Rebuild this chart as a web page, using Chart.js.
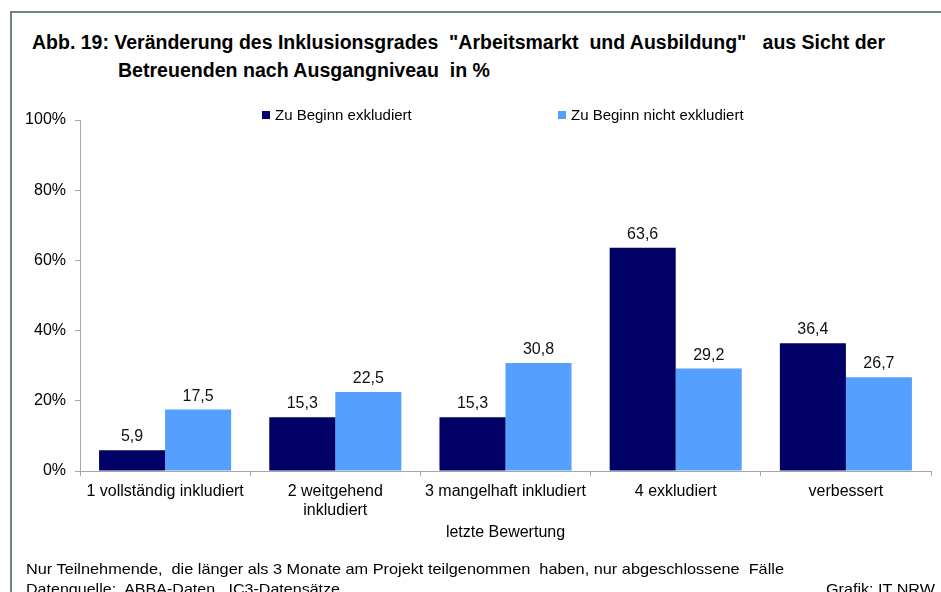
<html>
<head>
<meta charset="UTF-8" />
<title>Abb. 19</title>
<style type="text/css">
  html, body { margin: 0; padding: 0; background: #fff; width: 941px; height: 592px; overflow: hidden; }
  body { position: relative; font-family: "Liberation Sans", Arial, sans-serif; color: #000; }
  #frame { position: absolute; left: 10px; top: 11px; width: 940px; height: 600px;
           border-left: 2px solid #6e8484; border-top: 2px solid #6e8484; }
  .txt { position: absolute; white-space: pre; transform-origin: 0 0; line-height: 1; }
  .title { font-weight: bold; font-size: 20px; }
  .foot { font-size: 15px; }
  #legend { position: absolute; left: 0; top: 106px; font-size: 15px; }
  #legend span.item { position: absolute; white-space: pre; line-height: 18px; }
  #legend i { display: inline-block; width: 8px; height: 8px; margin-right: 5px; vertical-align: 1px; }
  #chart { position: absolute; left: 0; top: 0; }
</style>
</head>
<body>
<div id="frame"></div>
<div class="txt title" id="t1" style="left:32px; top:32px;">Abb. 19: Veränderung des Inklusionsgrades  "Arbeitsmarkt  und Ausbildung"   aus Sicht der</div>
<div class="txt title" id="t2" style="left:118px; top:60px;">Betreuenden nach Ausgangniveau  in %</div>
<canvas id="chart" width="941" height="592"></canvas>
<div id="legend"></div>
<div class="txt foot" id="f1" style="left:26px; top:561px;">Nur Teilnehmende,  die länger als 3 Monate am Projekt teilgenommen  haben, nur abgeschlossene  Fälle</div>
<div class="txt foot" id="f2" style="left:26px; top:581px;">Datenquelle:  ABBA-Daten,  IC3-Datensätze</div>
<div class="txt foot" id="f3" style="left:826px; top:581px;">Grafik: IT NRW</div>

<script src="https://cdn.jsdelivr.net/npm/chart.js"></script>
<script>
  // data
  const categories = ['1 vollständig inkludiert', ['2 weitgehend', 'inkludiert'], '3 mangelhaft inkludiert', '4 exkludiert', 'verbessert'];
  const seriesNames = ['Zu Beginn exkludiert', 'Zu Beginn nicht exkludiert'];
  const excluded = [5.9, 15.3, 15.3, 63.6, 36.4];
  const notExcluded = [17.5, 22.5, 30.8, 29.2, 26.7];
  const yTicks = [0, 20, 40, 60, 80, 100];

  const colors = ['#000066', '#55a0ff'];
  const axisGrey = '#a6a6a6';
  const family = '"Liberation Sans", Arial, sans-serif';
  const font = { family: family, size: 16 };

  // squeeze html text to the width it has in the picture
  function fit(id, w) {
    const el = document.getElementById(id);
    const cur = el.getBoundingClientRect().width;
    el.style.transform = 'scaleX(' + (w / cur) + ')';
  }
  fit('t1', 853);
  fit('t2', 372);
  fit('f1', 758);
  fit('f2', 314);
  fit('f3', 109);

  // legend from series names
  const legend = document.getElementById('legend');
  const legendX = [262, 558];
  seriesNames.forEach((name, i) => {
    const s = document.createElement('span');
    s.className = 'item';
    s.style.left = legendX[i] + 'px';
    s.innerHTML = '<i style="background:' + colors[i] + '"></i>' + name;
    legend.appendChild(s);
  });

  const valueLabels = {
    id: 'valueLabels',
    afterDatasetsDraw(chart) {
      const c = chart.ctx;
      c.save();
      c.font = '16px ' + family;
      c.fillStyle = '#111';
      c.textAlign = 'center';
      c.textBaseline = 'alphabetic';
      chart.data.datasets.forEach((ds, i) => {
        chart.getDatasetMeta(i).data.forEach((bar, j) => {
          c.fillText(ds.data[j].toFixed(1).replace('.', ','), bar.x, bar.y - 9);
        });
      });
      c.restore();
    }
  };

  new Chart(document.getElementById('chart'), {
    type: 'bar',
    data: {
      labels: categories,
      datasets: [
        { label: seriesNames[0], data: excluded, backgroundColor: colors[0] },
        { label: seriesNames[1], data: notExcluded, backgroundColor: colors[1] }
      ]
    },
    options: {
      responsive: false,
      animation: false,
      categoryPercentage: 0.776,
      barPercentage: 1,
      layout: { padding: { left: 0, right: 10, top: 120, bottom: 50 } },
      plugins: { legend: { display: false }, tooltip: { enabled: false } },
      scales: {
        x: {
          afterFit(scale) { scale.height = 71; },
          grid: { offset: true, drawOnChartArea: false, tickLength: 5, color: axisGrey },
          border: { color: axisGrey },
          ticks: { font: font, color: '#000', padding: 6, maxRotation: 0, autoSkip: false },
          title: { display: true, text: 'letzte Bewertung', font: font, color: '#000', padding: 0 }
        },
        y: {
          min: 0,
          max: 100,
          afterFit(scale) { scale.width = 80; },
          afterBuildTicks(scale) { scale.ticks = yTicks.map(v => ({ value: v })); },
          grid: { drawOnChartArea: false, tickLength: 5, color: axisGrey },
          border: { color: axisGrey },
          ticks: { font: font, color: '#000', padding: 9, callback: v => v + '%' }
        }
      }
    },
    plugins: [valueLabels]
  });
</script>
</body>
</html>
